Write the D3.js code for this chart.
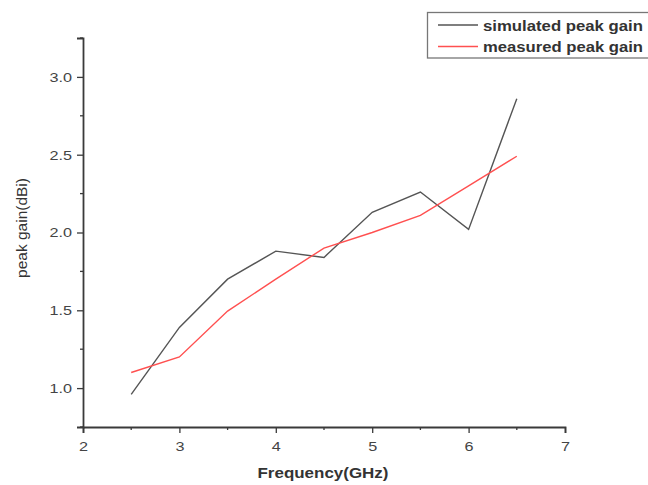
<!DOCTYPE html>
<html>
<head>
<meta charset="utf-8">
<script src="https://cdn.jsdelivr.net/npm/d3@7"></script>
<style>
  body { margin: 0; background: #fff; }
  svg { display: block; font-family: Arial, "Liberation Sans", sans-serif; }
</style>
</head>
<body>
<div id="graphic"></div>
<script>
const freq = [2.5, 3, 3.5, 4, 4.5, 5, 5.5, 6, 6.5];
const simulated = [0.96, 1.39, 1.70, 1.88, 1.84, 2.13, 2.26, 2.02, 2.86];
const measured = [1.10, 1.20, 1.495, 1.70, 1.90, 2.00, 2.11, 2.30, 2.49];
const xTicks = [2, 3, 4, 5, 6, 7];
const yTicks = [1.0, 1.5, 2.0, 2.5, 3.0];
const seriesNames = ['simulated peak gain', 'measured peak gain'];

const width = 648, height = 485;
// the picture is a bit stretched sideways, so the text is too
const stretchX = 1.2;

const x = d3.scaleLinear().domain([2, 7]).range([83, 565]);
const y = d3.scaleLinear().domain([0.75, 3.25]).range([427, 38]);

const svg = d3.select("#graphic").append("svg")
  .attr("width", width)
  .attr("height", height);

function stretch(sel) {
  sel.each(function() {
    const w = this.getComputedTextLength();
    d3.select(this)
      .attr("textLength", w * stretchX)
      .attr("lengthAdjust", "spacingAndGlyphs");
  });
}

// minor ticks
const xMinor = d3.range(2.5, 7, 1);
const yMinor = [0.75, 1.25, 1.75, 2.25, 2.75, 3.25];

const axisColor = "#3a3a3a";

let xAxis = svg.append("g")
  .attr("transform", `translate(0,${y(0.75)})`)
  .call(d3.axisBottom(x).tickValues(xTicks).tickFormat(d3.format("d")).tickSizeOuter(0).tickSize(6).tickPadding(8));
xAxis.selectAll(".tick line").attr("stroke", axisColor).attr("stroke-width", 1.3);
xAxis.select(".domain").attr("stroke", axisColor).attr("stroke-width", 1.8);
xAxis.selectAll("text").attr("font-size", 13.5).attr("fill", "#444").call(stretch);
xAxis.selectAll(".minor").data(xMinor).join("line")
  .attr("x1", x).attr("x2", x).attr("y1", 0).attr("y2", 3)
  .attr("stroke", axisColor).attr("stroke-width", 1.3);

let yAxis = svg.append("g")
  .attr("transform", `translate(${x(2)},0)`)
  .call(d3.axisLeft(y).tickValues(yTicks).tickFormat(d3.format(".1f")).tickSizeOuter(0).tickSize(6).tickPadding(5));
yAxis.selectAll(".tick line").attr("stroke", axisColor).attr("stroke-width", 1.3);
yAxis.select(".domain").attr("stroke", axisColor).attr("stroke-width", 1.8);
yAxis.selectAll("text").attr("font-size", 13.5).attr("fill", "#444").call(stretch);
yAxis.selectAll(".minor").data(yMinor).join("line")
  .attr("x1", 0).attr("x2", -3).attr("y1", y).attr("y2", y)
  .attr("stroke", axisColor).attr("stroke-width", 1.3);

// axis titles
svg.append("text")
  .attr("x", 323).attr("y", 478)
  .attr("text-anchor", "middle")
  .attr("font-size", 15).attr("font-weight", "bold").attr("fill", "#333")
  .text("Frequency(GHz)")
  .call(sel => sel.attr("textLength", 131).attr("lengthAdjust", "spacingAndGlyphs"));

svg.append("text")
  .attr("transform", `translate(27,228) rotate(-90)`)
  .attr("text-anchor", "middle")
  .attr("font-size", 15.5).attr("fill", "#333")
  .text("peak gain(dBi)");

// lines
const line = d3.line()
  .x(d => x(d[0]))
  .y(d => y(d[1]));

svg.append("path")
  .attr("d", line(freq.map((f, i) => [f, simulated[i]])))
  .attr("fill", "none")
  .attr("stroke", "#555")
  .attr("stroke-width", 1.4);

svg.append("path")
  .attr("d", line(freq.map((f, i) => [f, measured[i]])))
  .attr("fill", "none")
  .attr("stroke", "#ff5050")
  .attr("stroke-width", 1.4);

// legend
const colors = ["#555", "#ff5050"];
let legend = svg.append("g");
legend.append("rect")
  .attr("x", 427.5).attr("y", 12.5)
  .attr("width", 240).attr("height", 45.5)
  .attr("fill", "#fff")
  .attr("stroke", "#777").attr("stroke-width", 1.3);

seriesNames.forEach((name, i) => {
  const ly = 25 + i * 21.5;
  legend.append("line")
    .attr("x1", 438).attr("x2", 478)
    .attr("y1", ly).attr("y2", ly)
    .attr("stroke", colors[i]).attr("stroke-width", 1.3);
  legend.append("text")
    .attr("x", 483).attr("y", ly + 5.5)
    .attr("font-size", 14).attr("font-weight", "bold").attr("fill", "#333")
    .attr("textLength", 160).attr("lengthAdjust", "spacingAndGlyphs")
    .text(name);
});
</script>
</body>
</html>
